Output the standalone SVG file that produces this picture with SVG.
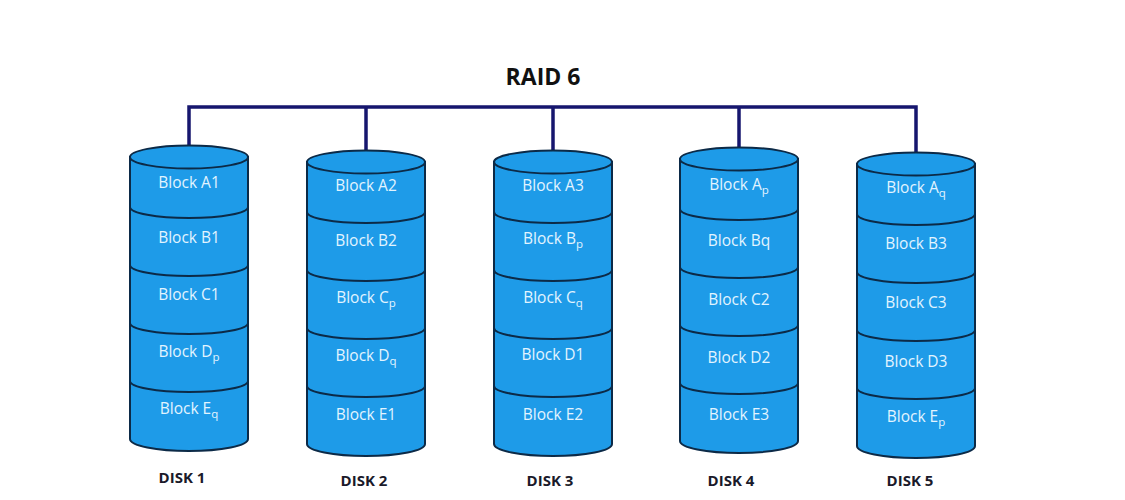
<svg xmlns="http://www.w3.org/2000/svg" width="1125" height="500" viewBox="0 0 1125 500">
<style>
.body{fill:#1e9be8;stroke:#0c2a47;stroke-width:2}
.sep{fill:none;stroke:#0c2a47;stroke-width:2}
.lbl{font-family:"Open Sans","Noto Sans",sans-serif;font-size:15.5px;font-weight:500;fill:#e2f4ff;text-anchor:middle}
.disk{font-family:"Open Sans","Noto Sans",sans-serif;font-size:15px;font-weight:bold;fill:#1a1a2a;text-anchor:middle}
.title{font-family:"Open Sans","Noto Sans",sans-serif;font-size:23px;font-weight:bold;fill:#111;text-anchor:middle}
.bus{fill:none;stroke:#16166e;stroke-width:3.5}
</style>
<defs>
<g id="cyl">
<path class="body" d="M-59,0 L-59,282 A59 12 0 0 0 59,282 L59,0 Z"/>
<ellipse class="body" cx="0" cy="0" rx="59" ry="11.5"/>
<path class="sep" d="M-59,50 A59 11 0 0 0 59,50"/>
<path class="sep" d="M-59,108 A59 11 0 0 0 59,108"/>
<path class="sep" d="M-59,166 A59 11 0 0 0 59,166"/>
<path class="sep" d="M-59,224 A59 11 0 0 0 59,224"/>
</g>
</defs>
<rect width="1125" height="500" fill="#fff"/>
<text class="title" x="543" y="85">RAID 6</text>
<g id="connectors">
<path class="bus" d="M189,145 L189,107 L916,107 L916,152"/>
<path class="bus" d="M366,107 L366,150"/>
<path class="bus" d="M553,107 L553,150"/>
<path class="bus" d="M739,107 L739,147"/>
</g>
<g id="disk1" transform="translate(189,157)">
<use href="#cyl"/>
<text class="lbl" x="0" y="31">Block A1</text>
<text class="lbl" x="0" y="86">Block B1</text>
<text class="lbl" x="0" y="143">Block C1</text>
<text class="lbl" x="0" y="200">Block D<tspan font-size="11.5" dy="4">p</tspan></text>
<text class="lbl" x="0" y="257">Block E<tspan font-size="11.5" dy="4">q</tspan></text>
</g>
<text class="disk" x="182" y="483">DISK 1</text>
<g id="disk2" transform="translate(366,162)">
<use href="#cyl"/>
<text class="lbl" x="0" y="29">Block A2</text>
<text class="lbl" x="0" y="84">Block B2</text>
<text class="lbl" x="0" y="141">Block C<tspan font-size="11.5" dy="4">p</tspan></text>
<text class="lbl" x="0" y="199">Block D<tspan font-size="11.5" dy="4">q</tspan></text>
<text class="lbl" x="0" y="258">Block E1</text>
</g>
<text class="disk" x="364" y="486">DISK 2</text>
<g id="disk3" transform="translate(553,162)">
<use href="#cyl"/>
<text class="lbl" x="0" y="29">Block A3</text>
<text class="lbl" x="0" y="82">Block B<tspan font-size="11.5" dy="4">p</tspan></text>
<text class="lbl" x="0" y="141">Block C<tspan font-size="11.5" dy="4">q</tspan></text>
<text class="lbl" x="0" y="198">Block D1</text>
<text class="lbl" x="0" y="258">Block E2</text>
</g>
<text class="disk" x="550" y="486">DISK 3</text>
<g id="disk4" transform="translate(739,159)">
<use href="#cyl"/>
<text class="lbl" x="0" y="31">Block A<tspan font-size="11.5" dy="4">p</tspan></text>
<text class="lbl" x="0" y="87">Block Bq</text>
<text class="lbl" x="0" y="146">Block C2</text>
<text class="lbl" x="0" y="204">Block D2</text>
<text class="lbl" x="0" y="261">Block E3</text>
</g>
<text class="disk" x="731" y="486">DISK 4</text>
<g id="disk5" transform="translate(916,164)">
<use href="#cyl"/>
<text class="lbl" x="0" y="29">Block A<tspan font-size="11.5" dy="4">q</tspan></text>
<text class="lbl" x="0" y="85">Block B3</text>
<text class="lbl" x="0" y="144">Block C3</text>
<text class="lbl" x="0" y="203">Block D3</text>
<text class="lbl" x="0" y="258">Block E<tspan font-size="11.5" dy="4">p</tspan></text>
</g>
<text class="disk" x="910" y="486">DISK  5</text>
</svg>
